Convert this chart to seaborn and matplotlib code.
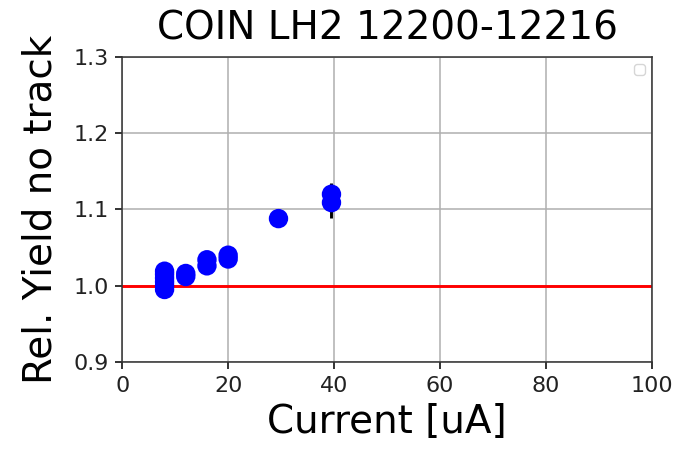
import numpy as np
import pandas as pd
import matplotlib
matplotlib.use('Agg')
import matplotlib.pyplot as plt
import seaborn as sns

# Data
current = [8, 8, 8, 8, 8, 8, 12, 12, 16, 16, 20, 20, 29.5, 39.5, 39.5]
rel_yield = [0.995, 1.000, 1.005, 1.010, 1.015, 1.019, 1.012, 1.016,
             1.026, 1.034, 1.035, 1.040, 1.088, 1.109, 1.120]
yield_err = [0.004, 0.004, 0.004, 0.004, 0.004, 0.004, 0.004, 0.004,
             0.005, 0.005, 0.005, 0.005, 0.006, 0.02, 0.015]

df = pd.DataFrame({'current': current, 'yield': rel_yield, 'err': yield_err})

scale = 1.4  # reference looks like a small figure blown up

fig = plt.figure(figsize=(6.75, 4.49), dpi=100)
ax = fig.add_axes([0.181, 0.194, 0.785, 0.679])

ax.errorbar(df['current'], df['yield'], yerr=df['err'], fmt='none',
            ecolor='black', elinewidth=1.5 * scale, zorder=2)
sns.scatterplot(data=df, x='current', y='yield', color='blue', s=195,
                edgecolor='none', ax=ax, zorder=3)
ax.axhline(1.0, color='red', linewidth=1.5 * scale, zorder=1)

ax.set_xlim(0, 100)
ax.set_ylim(0.9, 1.3)
ax.set_xticks([0, 20, 40, 60, 80, 100])
ax.set_yticks([0.9, 1.0, 1.1, 1.2, 1.3])
ax.grid(True, color='#b0b0b0', linewidth=0.8 * scale)
ax.set_axisbelow(True)
ax.tick_params(labelsize=16, labelcolor='#222222', width=0.8 * scale,
               length=3.5 * scale, pad=3.5 * scale)
for sp in ax.spines.values():
    sp.set_linewidth(0.8 * scale)
    sp.set_color('#333333')

ax.set_title('COIN LH2 12200-12216', fontsize=20 * scale, pad=6 * scale + 4)
ax.set_xlabel('Current [uA]', fontsize=20 * scale, labelpad=4 * scale)
ax.set_ylabel('Rel. Yield no track', fontsize=20 * scale, labelpad=4 * scale + 4)
ax.legend(handles=[], loc='upper right')

plt.savefig('out.png', dpi=100)
